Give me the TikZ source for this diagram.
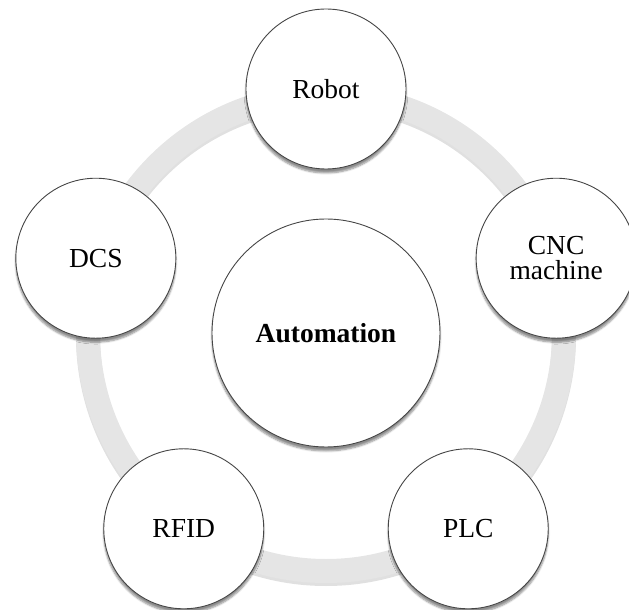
\documentclass[tikz,border=0pt]{standalone}
\usepackage{fontspec}
\setmainfont{Liberation Serif}
\usepackage{xcolor}
\usepackage{tikz}
\definecolor{ringgray}{RGB}{229, 229, 229}
\definecolor{edgegray}{RGB}{70, 70, 70}
\usetikzlibrary{shadows.blur, positioning}

\begin{document}
\begin{tikzpicture}[x=1pt, y=1pt,
        item/.style={circle, draw=edgegray, line width=0.9pt, fill=white,
              minimum size=160pt, inner sep=0pt, align=center,
              font=\fontsize{27.5}{25}\selectfont,
              blur shadow={shadow xshift=0pt, shadow yshift=-4pt,
                           shadow blur steps=6, shadow opacity=45}},
        hub/.style={item, minimum size=228pt,
              font=\fontsize{27.5}{25}\selectfont\bfseries}]
        \useasboundingbox (-326,-277) rectangle (303,333);
        % grey ring running behind the five outer circles
        \draw[line width=24pt, black, opacity=.12] (0,-3) circle (238pt);
        \draw[line width=24pt, ringgray] (0,0) circle (238pt);
        \node[hub] (hub) at (0,0) {Automation};
        \node[item] (robot) at (90:244) {Robot};
        \node[item] (cnc) at (18:242) {CNC\\machine};
        \node[item] (plc) at (-54:242) {PLC};
        \node[item] (rfid) at (-126:242) {RFID};
        \node[item] (dcs) at (162:242) {DCS};
    \end{tikzpicture}
\end{document}
